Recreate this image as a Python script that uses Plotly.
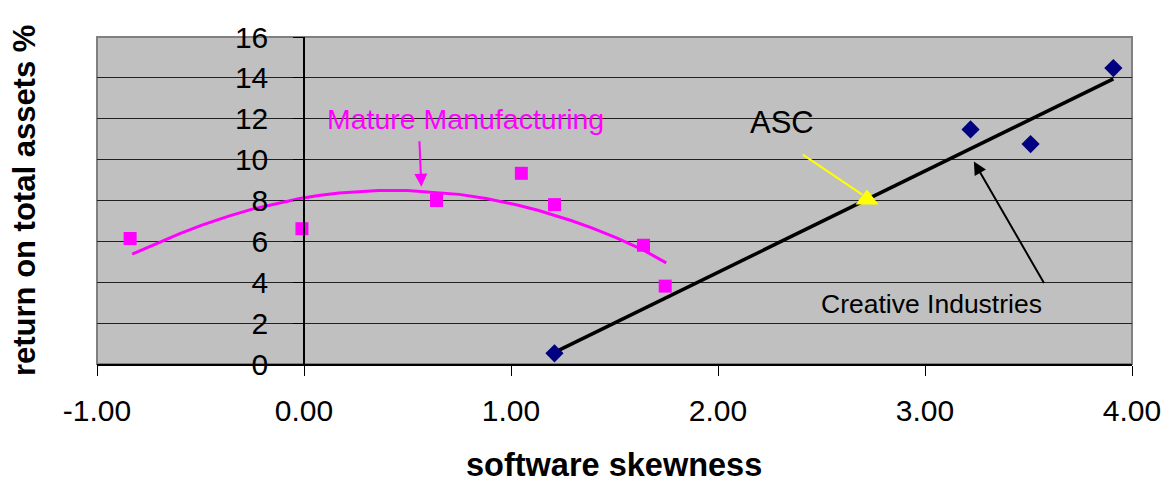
import plotly.graph_objects as go

# ---- data ----
mm_x = [-0.84, -0.01, 0.64, 1.05, 1.21, 1.64, 1.745]
mm_y = [6.14, 6.62, 8.0, 9.33, 7.8, 5.81, 3.81]

mm_trend_x = [-0.83, -0.70, -0.60, -0.49, -0.36, -0.25, -0.13, -0.02, 0.07, 0.17, 0.36, 0.50,
              0.75, 0.88, 1.03, 1.13, 1.29, 1.39, 1.51, 1.64, 1.75]
mm_trend_y = [5.38, 5.95, 6.38, 6.81, 7.25, 7.58, 7.87, 8.10, 8.24, 8.37, 8.49, 8.49,
              8.30, 8.10, 7.78, 7.52, 7.02, 6.66, 6.17, 5.57, 4.95]

ci_x = [1.21, 3.22, 3.51, 3.91]
ci_y = [0.52, 11.48, 10.76, 14.48]

ci_trend_x = [1.21, 3.91]
ci_trend_y = [0.57, 13.95]

asc_x = [2.72]
asc_y = [8.05]

x_ticks = [-1, 0, 1, 2, 3, 4]
x_tick_labels = ["-1.00", "0.00", "1.00", "2.00", "3.00", "4.00"]
y_ticks = [0, 2, 4, 6, 8, 10, 12, 14, 16]

FONT = "Arial, Liberation Sans, sans-serif"
MAGENTA = "#FF00FF"
NAVY = "#000080"

fig = go.Figure()

fig.add_trace(go.Scatter(x=mm_trend_x, y=mm_trend_y, mode="lines",
                         line=dict(color=MAGENTA, width=3), showlegend=False, hoverinfo="skip"))
fig.add_trace(go.Scatter(x=ci_trend_x, y=ci_trend_y, mode="lines",
                         line=dict(color="black", width=3.5), showlegend=False, hoverinfo="skip"))
fig.add_trace(go.Scatter(x=mm_x, y=mm_y, mode="markers", name="Mature Manufacturing",
                         marker=dict(symbol="square", size=13, color=MAGENTA), showlegend=False))
fig.add_trace(go.Scatter(x=ci_x, y=ci_y, mode="markers", name="Creative Industries",
                         marker=dict(symbol="diamond", size=14, color=NAVY), showlegend=False))
fig.add_trace(go.Scatter(x=asc_x, y=asc_y, mode="markers", name="ASC",
                         marker=dict(symbol="triangle-up", size=20, color="#FFFF00"), showlegend=False))

annotations = [
    dict(text="Mature Manufacturing", x=0.779, y=12.0, xref="x", yref="y", showarrow=False,
         font=dict(family=FONT, size=28.5, color=MAGENTA)),
    dict(text="ASC", x=2.308, y=11.8, xref="x", yref="y", showarrow=False,
         font=dict(family=FONT, size=31, color="black")),
    dict(text="Creative Industries", x=3.029, y=2.95, xref="x", yref="y", showarrow=False,
         font=dict(family=FONT, size=26.5, color="black")),
    # arrows
    dict(text="", x=0.567, y=8.67, xref="x", yref="y", showarrow=True, ax=-2, ay=-47,
         arrowhead=2, arrowsize=1.3, arrowwidth=2, arrowcolor=MAGENTA),
    dict(text="", x=3.236, y=9.905, xref="x", yref="y", showarrow=True, ax=71, ay=123,
         arrowhead=2, arrowsize=1.3, arrowwidth=2, arrowcolor="black"),
    dict(text="", x=2.697, y=8.29, xref="x", yref="y", showarrow=True, ax=-61, ay=-41,
         arrowhead=0, arrowwidth=2, arrowcolor="#FFFF00"),
    # axis titles
    dict(text="<b>software skewness</b>", x=0.4995, y=-0.31, xref="paper", yref="paper",
         showarrow=False, xanchor="center", yanchor="middle",
         font=dict(family=FONT, size=32.5, color="black")),
    dict(text="<b>return on total assets %</b>", x=-0.07, y=0.5, xref="paper", yref="paper",
         showarrow=False, xanchor="center", yanchor="middle", textangle=-90,
         font=dict(family=FONT, size=31, color="black")),
]

# page body has an 8px margin, so the figure is 8px smaller than the window
fig.update_layout(
    width=1165, height=479,
    margin=dict(l=89, r=35, t=20, b=123),
    paper_bgcolor="white",
    plot_bgcolor="#C0C0C0",
    font=dict(family=FONT, color="black"),
    showlegend=False,
    annotations=annotations,
    xaxis=dict(range=[-1, 4], tickvals=x_ticks, ticktext=x_tick_labels, ticks="outside", ticklen=10,
               tickcolor="black", showline=True, linecolor="black", linewidth=1.5,
               showgrid=False, zeroline=False, tickfont=dict(size=30, family=FONT),
               ticklabelstandoff=9),
    yaxis=dict(range=[0, 16], tickvals=y_ticks, anchor="free", position=0.2, ticks="outside",
               ticklen=10, tickcolor="black", showline=True, linecolor="black", linewidth=1.5,
               showgrid=True, gridcolor="#202020", gridwidth=1, zeroline=False,
               tickfont=dict(size=30, family=FONT), ticklabelstandoff=19),
    shapes=[dict(type="rect", xref="paper", yref="paper", x0=0, x1=1, y0=0, y1=1,
                 line=dict(color="#808080", width=2), layer="below")],
)

fig.write_html("out.html")
